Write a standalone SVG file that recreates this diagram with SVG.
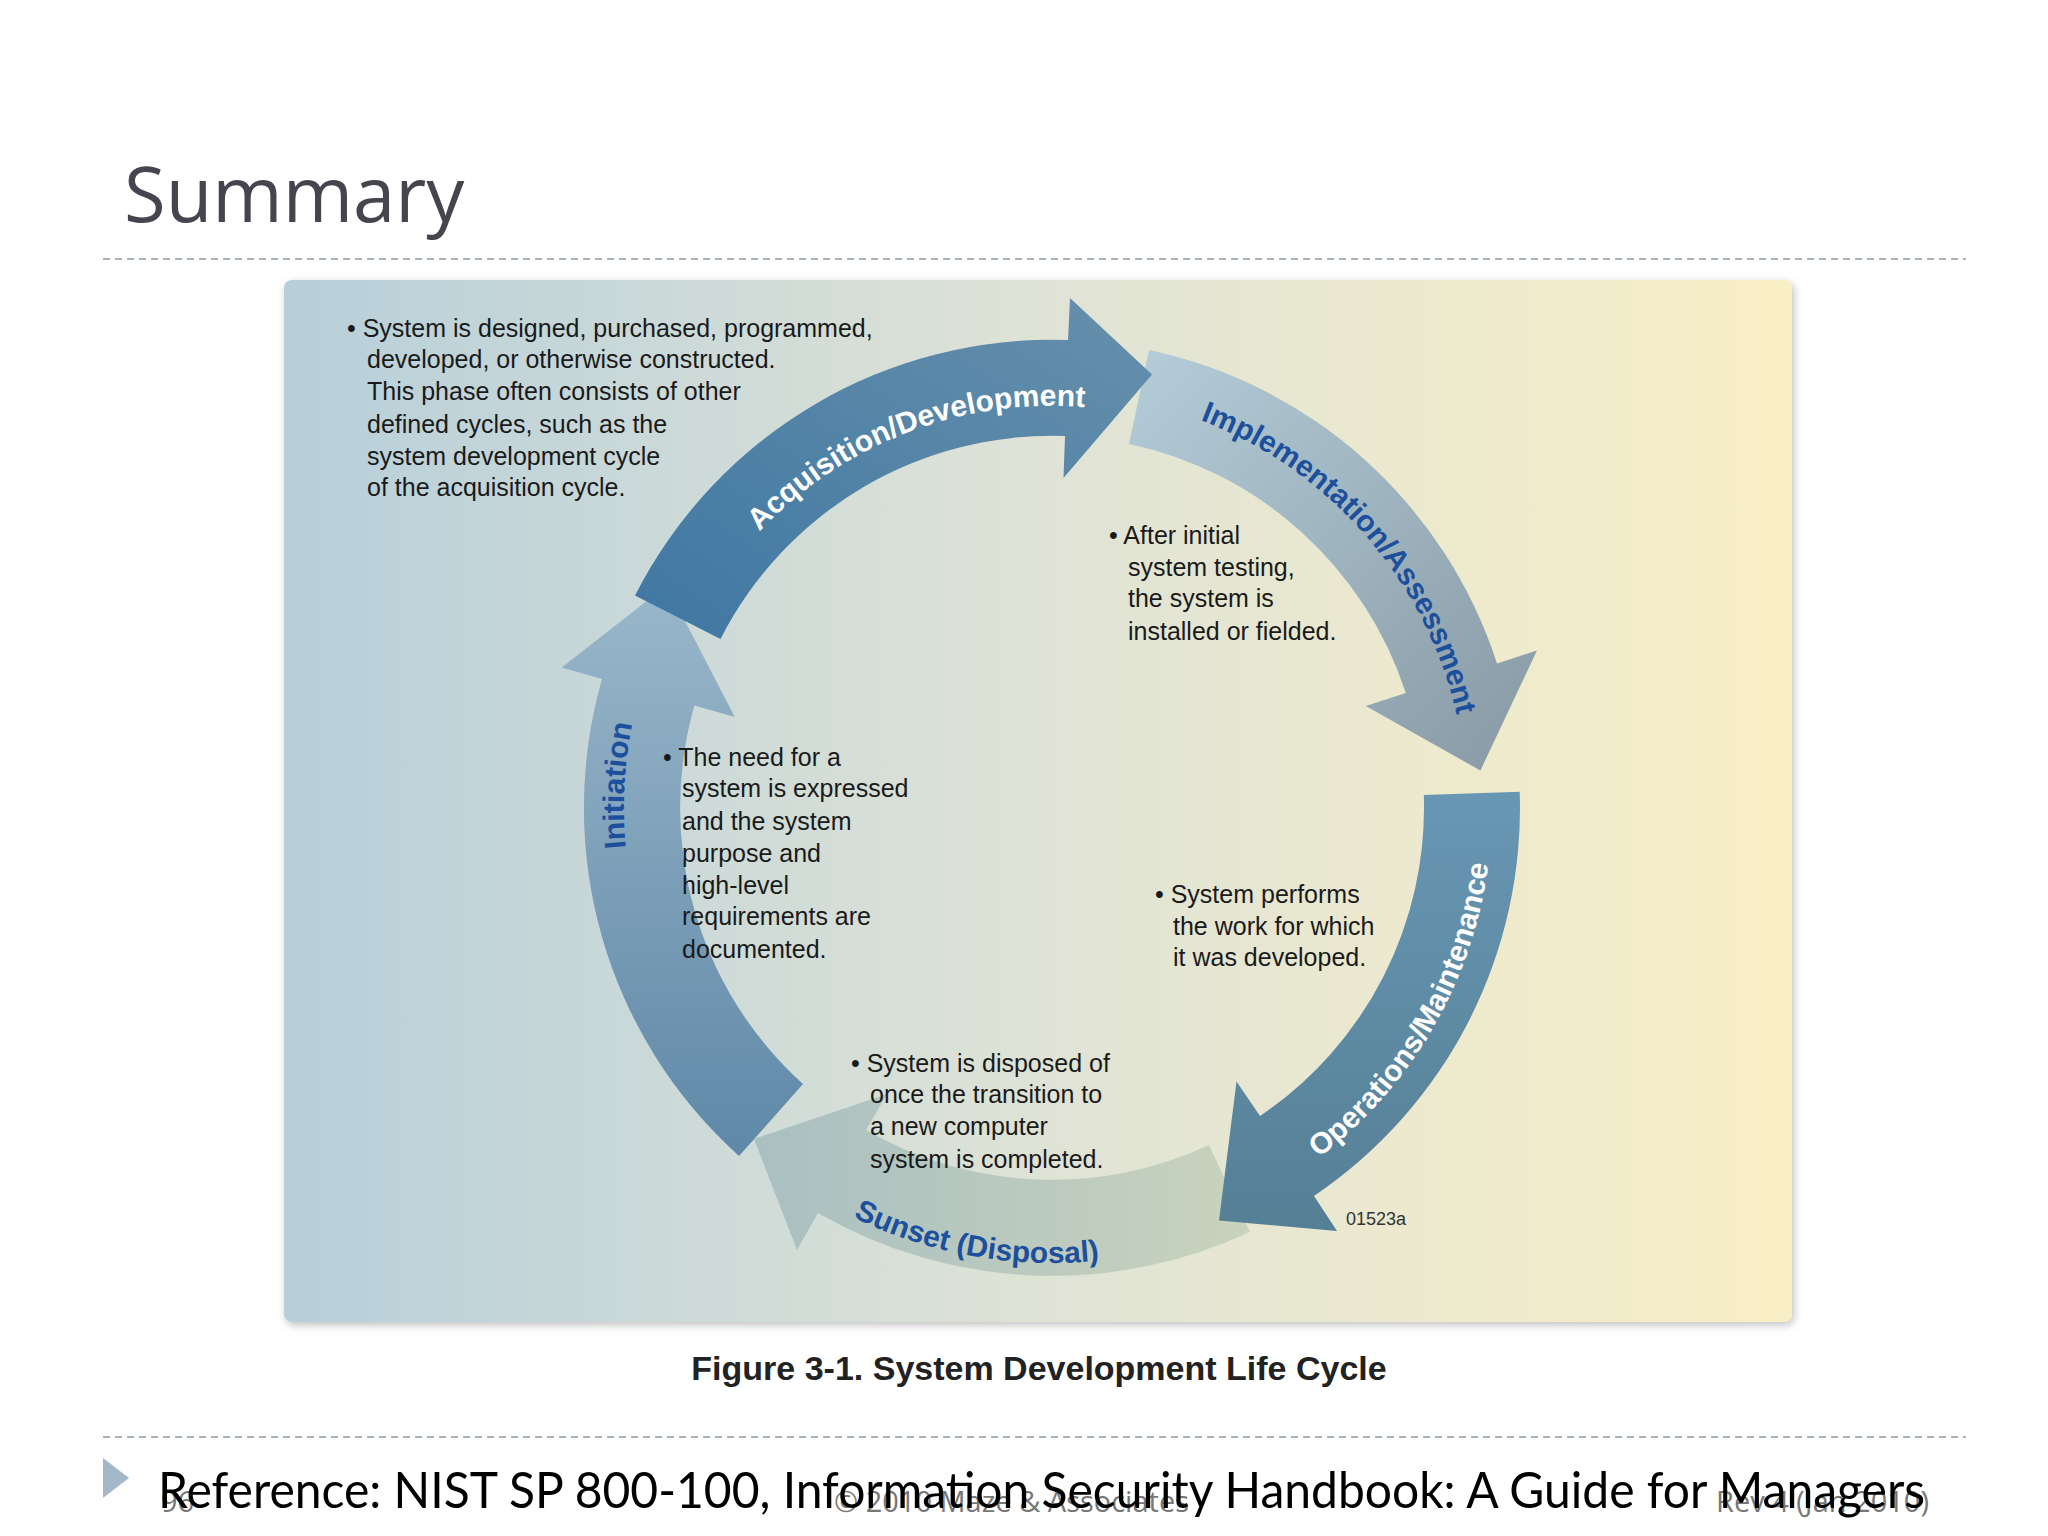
<svg xmlns="http://www.w3.org/2000/svg" width="2048" height="1536" viewBox="0 0 2048 1536">
<defs>
<linearGradient id="panel" x1="0" y1="0" x2="1" y2="0">
<stop offset="0" stop-color="#b7cfda"/><stop offset="0.5" stop-color="#dfe3d6"/><stop offset="1" stop-color="#f9efc6"/>
</linearGradient>
<linearGradient id="gAcq" x1="0" y1="1" x2="1" y2="0"><stop offset="0" stop-color="#3f77a3"/><stop offset="1" stop-color="#6790ab"/></linearGradient>
<linearGradient id="gImp" x1="0" y1="0" x2="1" y2="1"><stop offset="0" stop-color="#b4cdd8"/><stop offset="1" stop-color="#8799a5"/></linearGradient>
<linearGradient id="gOps" x1="0" y1="0" x2="0" y2="1"><stop offset="0" stop-color="#6897b4"/><stop offset="1" stop-color="#557f95"/></linearGradient>
<linearGradient id="gSun" x1="1" y1="0" x2="0" y2="0"><stop offset="0" stop-color="#c9d3bd"/><stop offset="1" stop-color="#a9bfc1"/></linearGradient>
<linearGradient id="gIni" x1="0" y1="1" x2="0" y2="0"><stop offset="0" stop-color="#5f88a8"/><stop offset="1" stop-color="#9ab7ca"/></linearGradient>
<filter id="sh" x="-5%" y="-5%" width="110%" height="110%"><feDropShadow dx="2" dy="3" stdDeviation="4" flood-color="#000" flood-opacity="0.25"/></filter>
<path id="tAcq" d="M726,557 A402,402 0 0 1 1113,409"/>
<path id="tImp" d="M1143,402 A415,415 0 0 1 1456,762"/>
<path id="tOps" d="M1263,1186 A440,440 0 0 0 1483,805"/>
<path id="tSun" d="M802,1191 A455,455 0 0 0 1138,1250"/>
<path id="tIni" d="M640.8,951.4 A428,428 0 0 1 658.3,617.4"/>
</defs>
<style>
.body{font-family:"Liberation Sans",Arial,sans-serif;font-size:25px;fill:#1a1a1a}
.lbl{font-family:"Liberation Sans",Arial,sans-serif;font-size:30px;font-weight:bold}
.dash{stroke:#a9b3bc;stroke-width:2;stroke-dasharray:7 5}
.foot{font-family:"Open Sans",sans-serif;font-size:29px;fill:#777}
</style>
<rect width="2048" height="1536" fill="#fff"/>
<g id="title"><text x="124" y="222" font-family="Open Sans, sans-serif" font-size="76" fill="#454550">Summary</text></g>
<line class="dash" x1="103" y1="259" x2="1966" y2="259"/>
<g id="panel"><rect x="284" y="280" width="1508" height="1042" rx="8" fill="url(#panel)" filter="url(#sh)"/></g>
<g id="connectors" transform="translate(9,3)">
<path id="sunset" d="M1241,1229 A468,468 0 0 1 809,1210 L788,1247 L745,1136 L878,1091 L857,1127 A372,372 0 0 0 1200,1142 Z" fill="url(#gSun)"/>
<path id="initiation" d="M730,1153 A468,468 0 0 1 593,676 L552.7,664.4 L657.6,582.5 L725.8,714 L685.4,702.5 A372,372 0 0 0 794,1081 Z" fill="url(#gIni)"/>
<path id="ops" d="M1510.7,788.7 A468,468 0 0 1 1305,1193 L1328,1228 L1210,1217.5 L1227.5,1078.6 L1251,1113 A372,372 0 0 0 1414.8,792 Z" fill="url(#gOps)"/>
<path id="impl" d="M1140,347 A468,468 0 0 1 1488,660.4 L1528,647.4 L1471.4,767.5 L1356.8,703 L1396.8,690 A372,372 0 0 0 1120,441 Z" fill="url(#gImp)"/>
<path id="acq" d="M626,592.5 A468,468 0 0 1 1059,337 L1061,295 L1143,371.6 L1054.5,475 L1056,433 A372,372 0 0 0 711.5,636 Z" fill="url(#gAcq)"/>
<text class="lbl" fill="#fff"><textPath href="#tAcq" startOffset="50%" text-anchor="middle">Acquisition/Development</textPath></text>
<text class="lbl" fill="#1c4f9c"><textPath href="#tImp" startOffset="50%" text-anchor="middle">Implementation/Assessment</textPath></text>
<text class="lbl" fill="#fff"><textPath href="#tOps" startOffset="50%" text-anchor="middle">Operations/Maintenance</textPath></text>
<text class="lbl" fill="#1c4f9c"><textPath href="#tSun" startOffset="50%" text-anchor="middle">Sunset (Disposal)</textPath></text>
<text class="lbl" fill="#1c4f9c"><textPath href="#tIni" startOffset="50%" text-anchor="middle">Initiation</textPath></text>
</g>
<g id="acq-text" class="body">
<text x="347" y="337">• System is designed, purchased, programmed,</text>
<text x="367" y="368">developed, or otherwise constructed.</text>
<text x="367" y="400">This phase often consists of other</text>
<text x="367" y="433">defined cycles, such as the</text>
<text x="367" y="465">system development cycle</text>
<text x="367" y="496">of the acquisition cycle.</text>
</g>
<g id="impl-text" class="body">
<text x="1109" y="544">• After initial</text>
<text x="1128" y="576">system testing,</text>
<text x="1128" y="607">the system is</text>
<text x="1128" y="640">installed or fielded.</text>
</g>
<g id="init-text" class="body">
<text x="663" y="766">• The need for a</text>
<text x="682" y="797">system is expressed</text>
<text x="682" y="830">and the system</text>
<text x="682" y="862">purpose and</text>
<text x="682" y="894">high-level</text>
<text x="682" y="925">requirements are</text>
<text x="682" y="958">documented.</text>
</g>
<g id="ops-text" class="body">
<text x="1155" y="903">• System performs</text>
<text x="1173" y="935">the work for which</text>
<text x="1173" y="966">it was developed.</text>
</g>
<g id="sunset-text" class="body">
<text x="851" y="1072">• System is disposed of</text>
<text x="870" y="1103">once the transition to</text>
<text x="870" y="1135">a new computer</text>
<text x="870" y="1168">system is completed.</text>
</g>
<text x="1346" y="1225" font-family="Liberation Sans, sans-serif" font-size="18" fill="#333">01523a</text>
<g id="caption"><text x="1039" y="1380" text-anchor="middle" font-family="Liberation Sans, Arial, sans-serif" font-size="34" font-weight="bold" fill="#222">Figure 3-1. System Development Life Cycle</text></g>
<line class="dash" x1="103" y1="1437" x2="1966" y2="1437"/>
<polygon points="103,1458 129,1478 103,1498" fill="#a4b8ca"/>
<text class="foot" x="161" y="1512">96</text>
<text class="foot" x="834" y="1512">© 2010 Maze &amp; Associates</text>
<text class="foot" x="1716" y="1512">Rev 4 (Jan 2010)</text>
<text x="158" y="1508" font-family="Lato, sans-serif" font-size="50" fill="#000" textLength="1767" lengthAdjust="spacingAndGlyphs">Reference:  NIST SP 800-100, Information Security Handbook: A Guide for Managers</text>
</svg>
